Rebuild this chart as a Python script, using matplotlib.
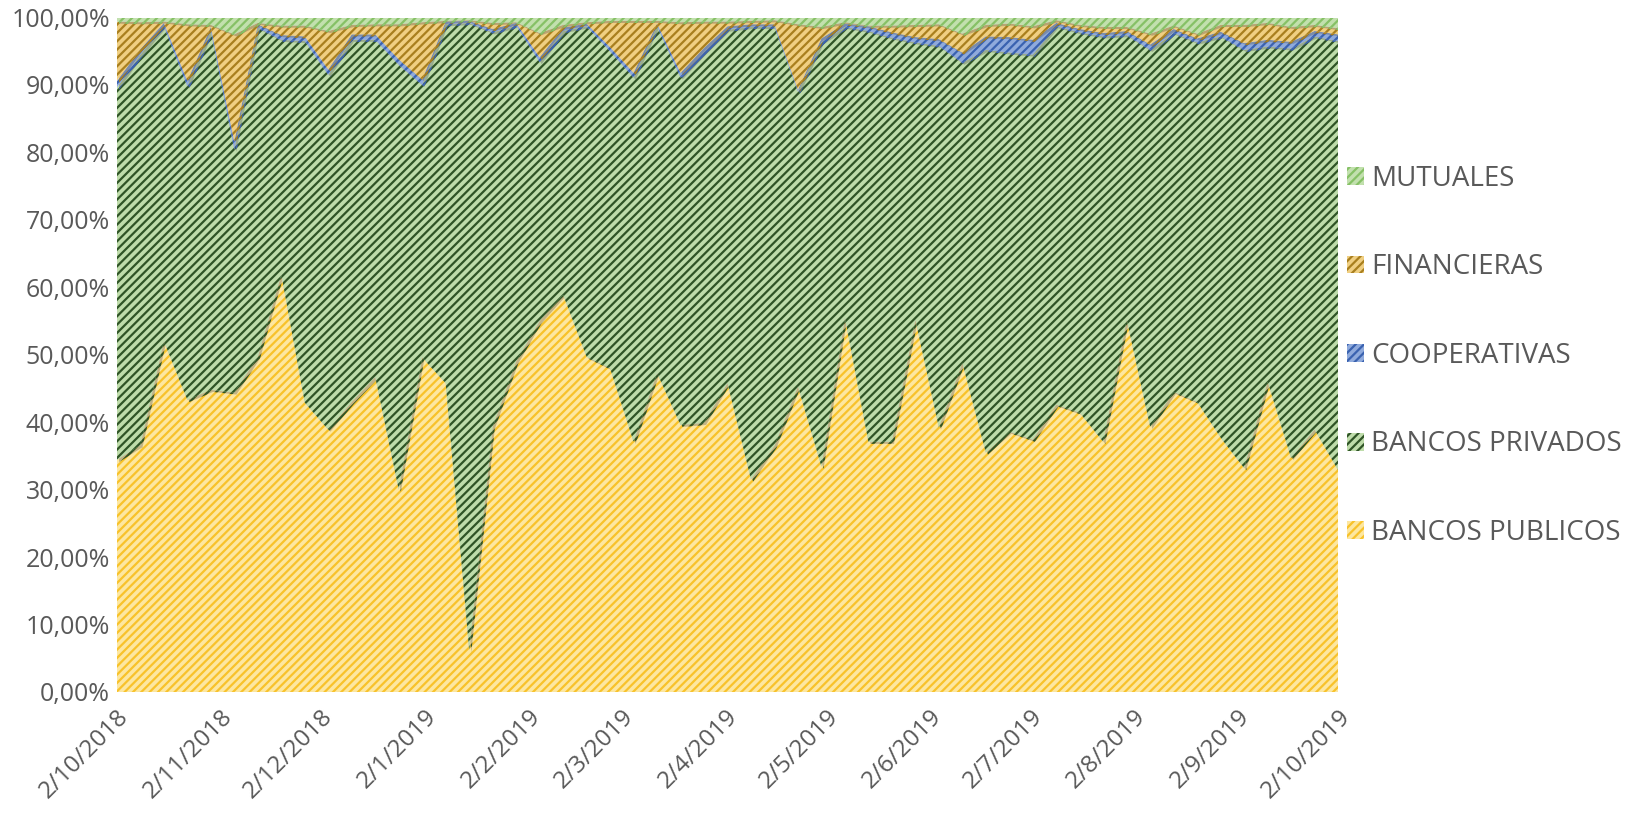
import numpy as np
import pandas as pd
import matplotlib
matplotlib.use("Agg")
import matplotlib.pyplot as plt
from matplotlib.patches import Patch
from matplotlib.ticker import FuncFormatter
from matplotlib import patheffects as pe

plt.rcParams['font.family'] = ['Open Sans', 'DejaVu Sans']
plt.rcParams['hatch.linewidth'] = 1.6

# fechas de la serie (53 cortes entre 2/10/2018 y 2/10/2019)
fechas = pd.date_range("2018-10-02", "2019-10-02", periods=53)

bancos_publicos = [34.4, 36.6, 52.0, 43.3, 44.8, 44.4, 49.7, 61.9, 42.9, 38.9,
                   43.0, 46.7, 30.0, 49.6, 45.8, 6.2, 39.3, 49.0, 55.0, 58.9,
                   49.7, 48.0, 37.1, 47.3, 39.6, 39.9, 45.8, 31.5, 36.5, 45.3,
                   33.4, 55.5, 37.1, 37.1, 55.2, 39.2, 48.8, 35.5, 38.6, 37.4,
                   42.6, 41.4, 37.1, 55.2, 39.3, 44.5, 43.0, 37.7, 33.2, 46.0,
                   34.7, 38.9, 32.9]
bancos_privados = [55.2, 57.9, 46.7, 46.5, 53.2, 36.0, 48.8, 34.8, 53.6, 52.6,
                   53.7, 50.0, 63.0, 40.4, 53.2, 93.0, 58.5, 49.8, 38.4, 39.1,
                   49.0, 47.0, 54.0, 51.4, 51.5, 54.9, 52.4, 67.1, 62.1, 43.7,
                   62.9, 43.1, 60.9, 59.9, 41.1, 56.6, 44.5, 59.7, 56.2, 57.1,
                   56.1, 56.4, 60.1, 42.2, 55.9, 53.2, 53.3, 59.5, 62.0, 49.7,
                   60.7, 58.3, 63.6]
cooperativas = [1.0, 0.8, 0.5, 0.8, 0.6, 1.2, 0.5, 0.7, 0.7, 0.8,
                0.8, 0.8, 0.8, 0.8, 0.4, 0.3, 0.5, 0.4, 0.7, 0.5,
                0.4, 0.6, 0.7, 0.4, 0.7, 0.7, 0.5, 0.4, 0.4, 0.3,
                0.6, 0.5, 0.7, 0.8, 0.8, 1.0, 1.5, 2.0, 2.3, 2.2,
                0.5, 0.5, 0.5, 0.6, 0.8, 0.6, 0.6, 0.7, 1.0, 1.0,
                1.0, 0.8, 1.0]
financieras = [8.8, 4.0, 0.2, 8.4, 0.3, 15.9, 0.2, 1.4, 1.6, 5.7,
               1.4, 1.5, 5.2, 8.5, 0.1, 0.1, 0.9, 0.1, 3.6, 0.4,
               0.2, 3.9, 7.7, 0.4, 7.5, 3.9, 0.7, 0.5, 0.6, 9.7,
               1.7, 0.2, 0.1, 1.0, 1.8, 2.2, 2.8, 1.7, 2.0, 2.0,
               0.4, 0.6, 0.9, 0.6, 1.6, 0.5, 0.7, 1.0, 2.7, 2.5,
               2.2, 0.9, 0.9]
mutuales = [0.6, 0.7, 0.6, 1.0, 1.1, 2.5, 0.8, 1.2, 1.2, 2.0,
            1.1, 1.0, 1.0, 0.7, 0.5, 0.4, 0.8, 0.7, 2.3, 1.1,
            0.7, 0.5, 0.5, 0.5, 0.7, 0.6, 0.6, 0.5, 0.4, 1.0,
            1.4, 0.7, 1.2, 1.2, 1.1, 1.0, 2.4, 1.1, 0.9, 1.3,
            0.4, 1.1, 1.4, 1.4, 2.4, 1.2, 2.4, 1.1, 1.1, 0.8,
            1.4, 1.1, 1.6]

nombres = ["BANCOS PUBLICOS", "BANCOS PRIVADOS", "COOPERATIVAS", "FINANCIERAS", "MUTUALES"]
fondos = ["#FDE7A0", "#BEDCAA", "#8FAADC", "#F0CF82", "#C2E0AE"]
rayas = ["#F8C22A", "#2F5426", "#3A62B0", "#A97F1E", "#86C166"]

# 100% apilado, como en Excel
datos = np.array([bancos_publicos, bancos_privados, cooperativas, financieras, mutuales])
pct = datos / datos.sum(axis=0) * 100

fig = plt.figure(figsize=(16.33, 8.22), dpi=100)
ax = fig.add_axes([0.0716, 0.1582, 0.7478, 0.8205])

capas = ax.stackplot(fechas, pct, colors=fondos)
for capa, fc, hc in zip(capas, fondos, rayas):
    capa.set_facecolor(fc)
    capa.set_edgecolor(hc)
    capa.set_linewidth(0)
    capa.set_hatch("////")
    capa.set_path_effects([pe.SimplePatchShadow(offset=(1.5, -1.5), shadow_rgbFace="#555555", alpha=0.35),
                           pe.Normal()])

ax.set_xlim(fechas[0], fechas[-1])
ax.set_ylim(0, 100)
ax.set_yticks(np.arange(0, 101, 10))
ax.yaxis.set_major_formatter(FuncFormatter(lambda v, p: f"{v:.2f}".replace(".", ",") + "%"))

# un tick por mes, el dia 2
meses = pd.DatetimeIndex([pd.Timestamp(2018 + (9 + i) // 12, (9 + i) % 12 + 1, 2) for i in range(13)])
ax.set_xticks(meses)
ax.set_xticklabels([f"{d.day}/{d.month}/{d.year}" for d in meses], rotation=45,
                   ha="right", rotation_mode="anchor")

ax.tick_params(axis="both", length=0, labelsize=17.5, colors="#595959")
ax.tick_params(axis="y", labelsize=18, pad=5)
ax.tick_params(axis="x", pad=9)
for s in ax.spines.values():
    s.set_visible(False)

manejadores = [Patch(facecolor=fc, edgecolor=hc, hatch="////", linewidth=0, label=n)
               for n, fc, hc in zip(nombres, fondos, rayas)][::-1]
fig.legend(handles=manejadores, loc="center left", bbox_to_anchor=(0.825, 0.567),
           frameon=False, fontsize=20, labelcolor="#595959", handlelength=0.6,
           handleheight=0.6, handletextpad=0.25, labelspacing=2.18,
           borderpad=0, borderaxespad=0)

fig.savefig("out.png", dpi=100)
